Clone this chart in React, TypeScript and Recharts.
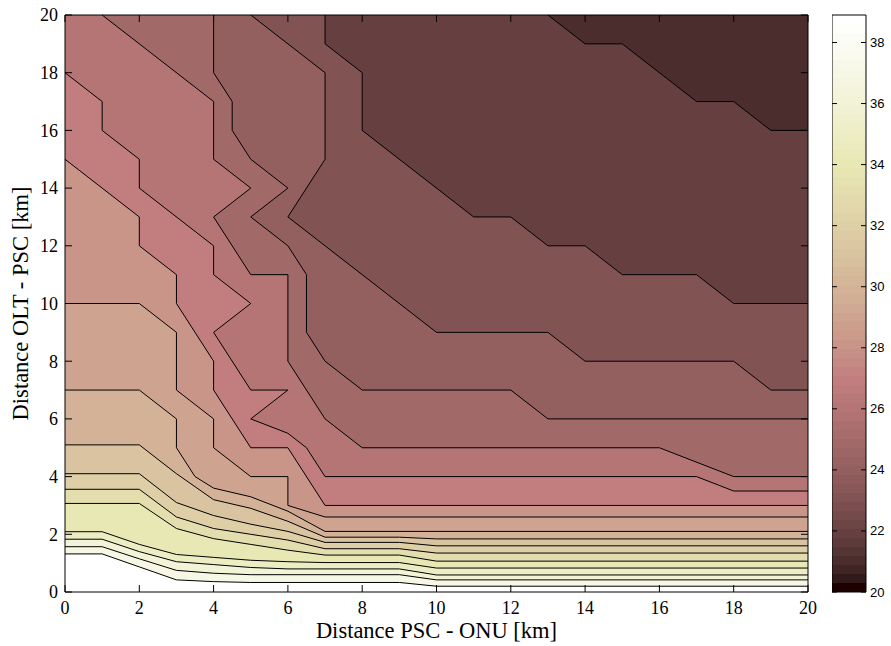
import React from 'react';
import { ComposedChart, Scatter, XAxis, YAxis, BarChart, Bar } from 'recharts';

type Pt = [number, number];

// contour lines of the received power map, one per level, from the top/left edge to the right edge
const level22: Pt[] = [[13, 20], [14, 19], [15, 19], [17, 17], [18, 17], [19, 16], [20, 16]];
const level23: Pt[] = [[7, 20], [7, 19], [8, 18], [8, 16], [11, 13], [12, 13], [13, 12], [14, 12], [15, 11], [17, 11], [18, 10], [20, 10]];
const level24: Pt[] = [[5, 20], [7, 18], [7, 15], [6, 13], [10, 9], [13, 9], [14, 8], [18, 8], [19, 7], [20, 7]];
const level25: Pt[] = [[4, 20], [4, 18], [4.5, 17], [4.5, 16], [5, 15], [6, 14], [5, 13], [6, 12], [6.5, 11], [6.5, 9], [7, 8], [8, 7], [12, 7], [13, 6], [20, 6]];
const level26: Pt[] = [[1, 20], [4, 17], [4, 15], [5, 14], [4, 13], [5, 11], [6, 11], [6, 8], [7, 6], [8, 5], [16, 5], [18, 4], [20, 4]];
const level27: Pt[] = [[0, 18], [1, 17], [1, 16], [2, 15], [2, 14], [4, 12], [4, 11], [5, 10], [4, 9], [5, 7], [6, 7], [5, 6], [6, 5.5], [6.5, 5], [7, 4], [17, 4], [18, 3.5], [20, 3.5]];
const level28: Pt[] = [[0, 15], [2, 13], [2, 12], [3, 11], [3, 10], [4, 8], [4, 7], [5, 5], [6, 5], [7, 3], [20, 3]];
const level29: Pt[] = [[0, 10], [2, 10], [3, 9], [3, 7], [4, 6], [4, 5], [5, 4], [6, 4], [6, 3], [7, 2.6], [20, 2.6]];
const level30: Pt[] = [[0, 7], [2, 7], [3, 6], [3, 5], [3.5, 4], [4, 3.6], [5, 3.3], [6, 2.8], [7, 2.1], [20, 2.1]];
const level31: Pt[] = [[0, 5.1], [2, 5.1], [3, 4.1], [4, 3.2], [5, 2.9], [6, 2.45], [7, 1.9], [9, 1.9], [10, 1.84], [20, 1.84]];
const level32: Pt[] = [[0, 4.1], [2, 4.1], [3, 3.1], [4, 2.65], [5, 2.35], [6, 2.1], [7, 1.72], [9, 1.72], [10, 1.6], [20, 1.6]];
const level33: Pt[] = [[0, 3.56], [2, 3.56], [3, 2.6], [4, 2.2], [5, 2.0], [6, 1.8], [7, 1.5], [9, 1.5], [10, 1.35], [20, 1.35]];
const level34: Pt[] = [[0, 3.07], [2, 3.07], [3, 2.2], [4, 1.85], [5, 1.65], [6, 1.45], [7, 1.28], [9, 1.28], [10, 1.07], [20, 1.07]];
const level35: Pt[] = [[0, 2.09], [1, 2.09], [2, 1.65], [3, 1.3], [4, 1.2], [5, 1.1], [6, 1.05], [7, 1.02], [9, 1.02], [10, 0.83], [20, 0.83]];
const level36: Pt[] = [[0, 1.83], [1, 1.83], [2, 1.4], [3, 1.05], [4, 0.95], [5, 0.85], [6, 0.8], [9, 0.8], [10, 0.59], [20, 0.59]];
const level37: Pt[] = [[0, 1.57], [1, 1.57], [2, 1.15], [3, 0.75], [4, 0.65], [5, 0.6], [9, 0.6], [10, 0.42], [20, 0.42]];
const level38: Pt[] = [[0, 1.32], [1, 1.32], [2, 0.87], [3, 0.42], [4, 0.36], [5, 0.33], [9, 0.33], [10, 0.2], [20, 0.2]];

const levels = [22, 23, 24, 25, 26, 27, 28, 29, 30, 31, 32, 33, 34, 35, 36, 37, 38];
const lines = [level22, level23, level24, level25, level26, level27, level28, level29, level30,
  level31, level32, level33, level34, level35, level36, level37, level38];
const baseLevel = 21;

const xTicks = [0, 2, 4, 6, 8, 10, 12, 14, 16, 18, 20];
const yTicks = [0, 2, 4, 6, 8, 10, 12, 14, 16, 18, 20];
const cbTicks = [20, 22, 24, 26, 28, 30, 32, 34, 36, 38];
const cLimits: [number, number] = [20, 38.9];

const W = 891;
const H = 646;
const PLOT = { left: 65, right: 808, top: 15, bottom: 592 };
const CB_LEFT = 832;
const CB_WIDTH = 34;
const TICK = 7;
const serif = '"Liberation Serif", "Times New Roman", serif';
const sans = '"Liberation Sans", Arial, sans-serif';

// MATLAB style "pink" colormap: sqrt((2*gray + hot) / 3)
const MAP_SIZE = 64;
function pink(i: number): string {
  const g = i / (MAP_SIZE - 1);
  const n = Math.floor((MAP_SIZE * 3) / 8);
  const hr = i < n ? (i + 1) / n : 1;
  const hg = i < n ? 0 : i < 2 * n ? (i - n + 1) / n : 1;
  const hb = i < 2 * n ? 0 : (i - 2 * n + 1) / (MAP_SIZE - 2 * n);
  const c = (h: number) => Math.round(255 * Math.sqrt((2 * g + h) / 3));
  return `rgb(${c(hr)},${c(hg)},${c(hb)})`;
}
const levelColor = (v: number) =>
  pink(Math.min(MAP_SIZE - 1, Math.floor(((v - cLimits[0]) / (cLimits[1] - cLimits[0])) * MAP_SIZE)));

// the band above the last level takes the top of the colour range
const bandColor = (i: number) => (i === levels.length - 1 ? levelColor(cLimits[1]) : levelColor(levels[i]));

const toPts = (arr: Pt[]) => arr.map(([x, y]) => ({ x, y }));

// area above a level: the contour, then round the lower-left corner of the plot
function region(line: Pt[]): Pt[] {
  const fromTop = line[0][1] === 20;
  return fromTop ? [...line, [20, 0], [0, 0], [0, 20]] : [...line, [20, 0], [0, 0]];
}

const box: Pt[] = [[0, 0], [20, 0], [20, 20], [0, 20], [0, 0]];

const noDot = () => null;

const XTick = ({ x, payload }: any) => (
  <g>
    <line x1={x} x2={x} y1={PLOT.bottom} y2={PLOT.bottom - TICK} stroke="#000" />
    <line x1={x} x2={x} y1={PLOT.top} y2={PLOT.top + TICK} stroke="#000" />
    <text x={x} y={PLOT.bottom + 22} textAnchor="middle" fontFamily={serif} fontSize={18} fill="#000">
      {payload.value}
    </text>
  </g>
);

const YTick = ({ y, payload }: any) => (
  <g>
    <line x1={PLOT.left} x2={PLOT.left + TICK} y1={y} y2={y} stroke="#000" />
    <line x1={PLOT.right} x2={PLOT.right - TICK} y1={y} y2={y} stroke="#000" />
    <text x={PLOT.left - 7} y={y} dy="0.35em" textAnchor="end" fontFamily={serif} fontSize={18} fill="#000">
      {payload.value}
    </text>
  </g>
);

// colorbar ticks, in the colorbar chart's own coordinates
const CbTick = ({ y, payload }: any) => (
  <g>
    <line x1={0} x2={5} y1={y} y2={y} stroke="#000" />
    <line x1={CB_WIDTH} x2={CB_WIDTH - 5} y1={y} y2={y} stroke="#000" />
    <text x={CB_WIDTH + 4} y={y} dy="0.35em" textAnchor="start" fontFamily={sans} fontSize={13} fill="#000">
      {payload.value}
    </text>
  </g>
);

const cbData = [{ k: 'c', span: cLimits }];

export default function App() {
  const stops: React.ReactNode[] = [];
  for (let i = 0; i < MAP_SIZE; i++) {
    stops.push(<stop key={`a${i}`} offset={i / MAP_SIZE} stopColor={pink(i)} />);
    stops.push(<stop key={`b${i}`} offset={(i + 1) / MAP_SIZE} stopColor={pink(i)} />);
  }

  return (
    <div style={{ position: 'absolute', left: 0, top: 0, width: W, height: H, background: '#fff' }}>
      <ComposedChart width={W} height={H} margin={{ top: PLOT.top, right: W - PLOT.right, bottom: 0, left: 0 }}>
        <Scatter data={toPts(box)} line={{ fill: levelColor(baseLevel), stroke: 'none' }} shape={noDot} isAnimationActive={false} />
        {lines.map((ln, i) => (
          <Scatter
            key={`f${levels[i]}`}
            data={toPts(region(ln))}
            line={{ fill: bandColor(i), stroke: 'none' }}
            shape={noDot}
            isAnimationActive={false}
          />
        ))}
        {lines.map((ln, i) => (
          <Scatter
            key={`l${levels[i]}`}
            data={toPts(ln)}
            line={{ fill: 'none', stroke: '#000', strokeWidth: 1 }}
            shape={noDot}
            isAnimationActive={false}
          />
        ))}
        <Scatter data={toPts(box)} line={{ fill: 'none', stroke: '#000', strokeWidth: 1 }} shape={noDot} isAnimationActive={false} />
        <XAxis
          type="number"
          dataKey="x"
          domain={[0, 20]}
          ticks={xTicks}
          interval={0}
          axisLine={false}
          tickLine={false}
          tickSize={0}
          tickMargin={0}
          height={H - PLOT.bottom}
          tick={(p: any) => <XTick {...p} />}
          zIndex={1000}
          label={{ value: 'Distance PSC - ONU [km]', position: 'insideBottom', offset: 8, fontFamily: serif, fontSize: 22.5, fill: '#000' }}
        />
        <YAxis
          type="number"
          dataKey="y"
          domain={[0, 20]}
          ticks={yTicks}
          interval={0}
          axisLine={false}
          tickLine={false}
          tickSize={0}
          tickMargin={0}
          width={PLOT.left}
          tick={(p: any) => <YTick {...p} />}
          zIndex={1000}
          label={{ value: 'Distance OLT - PSC [km]', angle: -90, position: 'insideLeft', offset: 20, fontFamily: serif, fontSize: 22.5, fill: '#000', style: { textAnchor: 'middle' } }}
        />
      </ComposedChart>

      <div style={{ position: 'absolute', left: CB_LEFT, top: 0 }}>
        <BarChart
          width={W - CB_LEFT}
          height={H}
          data={cbData}
          barCategoryGap={0}
          margin={{ top: PLOT.top, right: 0, bottom: H - PLOT.bottom, left: 0 }}
        >
          <defs>
            <linearGradient id="cbGrad" x1="0" y1="1" x2="0" y2="0">
              {stops}
            </linearGradient>
          </defs>
          <XAxis dataKey="k" hide />
          <YAxis
            orientation="right"
            type="number"
            domain={cLimits}
            ticks={cbTicks}
            interval={0}
            width={W - CB_LEFT - CB_WIDTH}
            axisLine={false}
            tickLine={false}
            tickSize={0}
            tickMargin={0}
            tick={(p: any) => <CbTick {...p} />}
            zIndex={1000}
          />
          <Bar dataKey="span" fill="url(#cbGrad)" stroke="#000" strokeWidth={1} isAnimationActive={false} />
        </BarChart>
      </div>
    </div>
  );
}
